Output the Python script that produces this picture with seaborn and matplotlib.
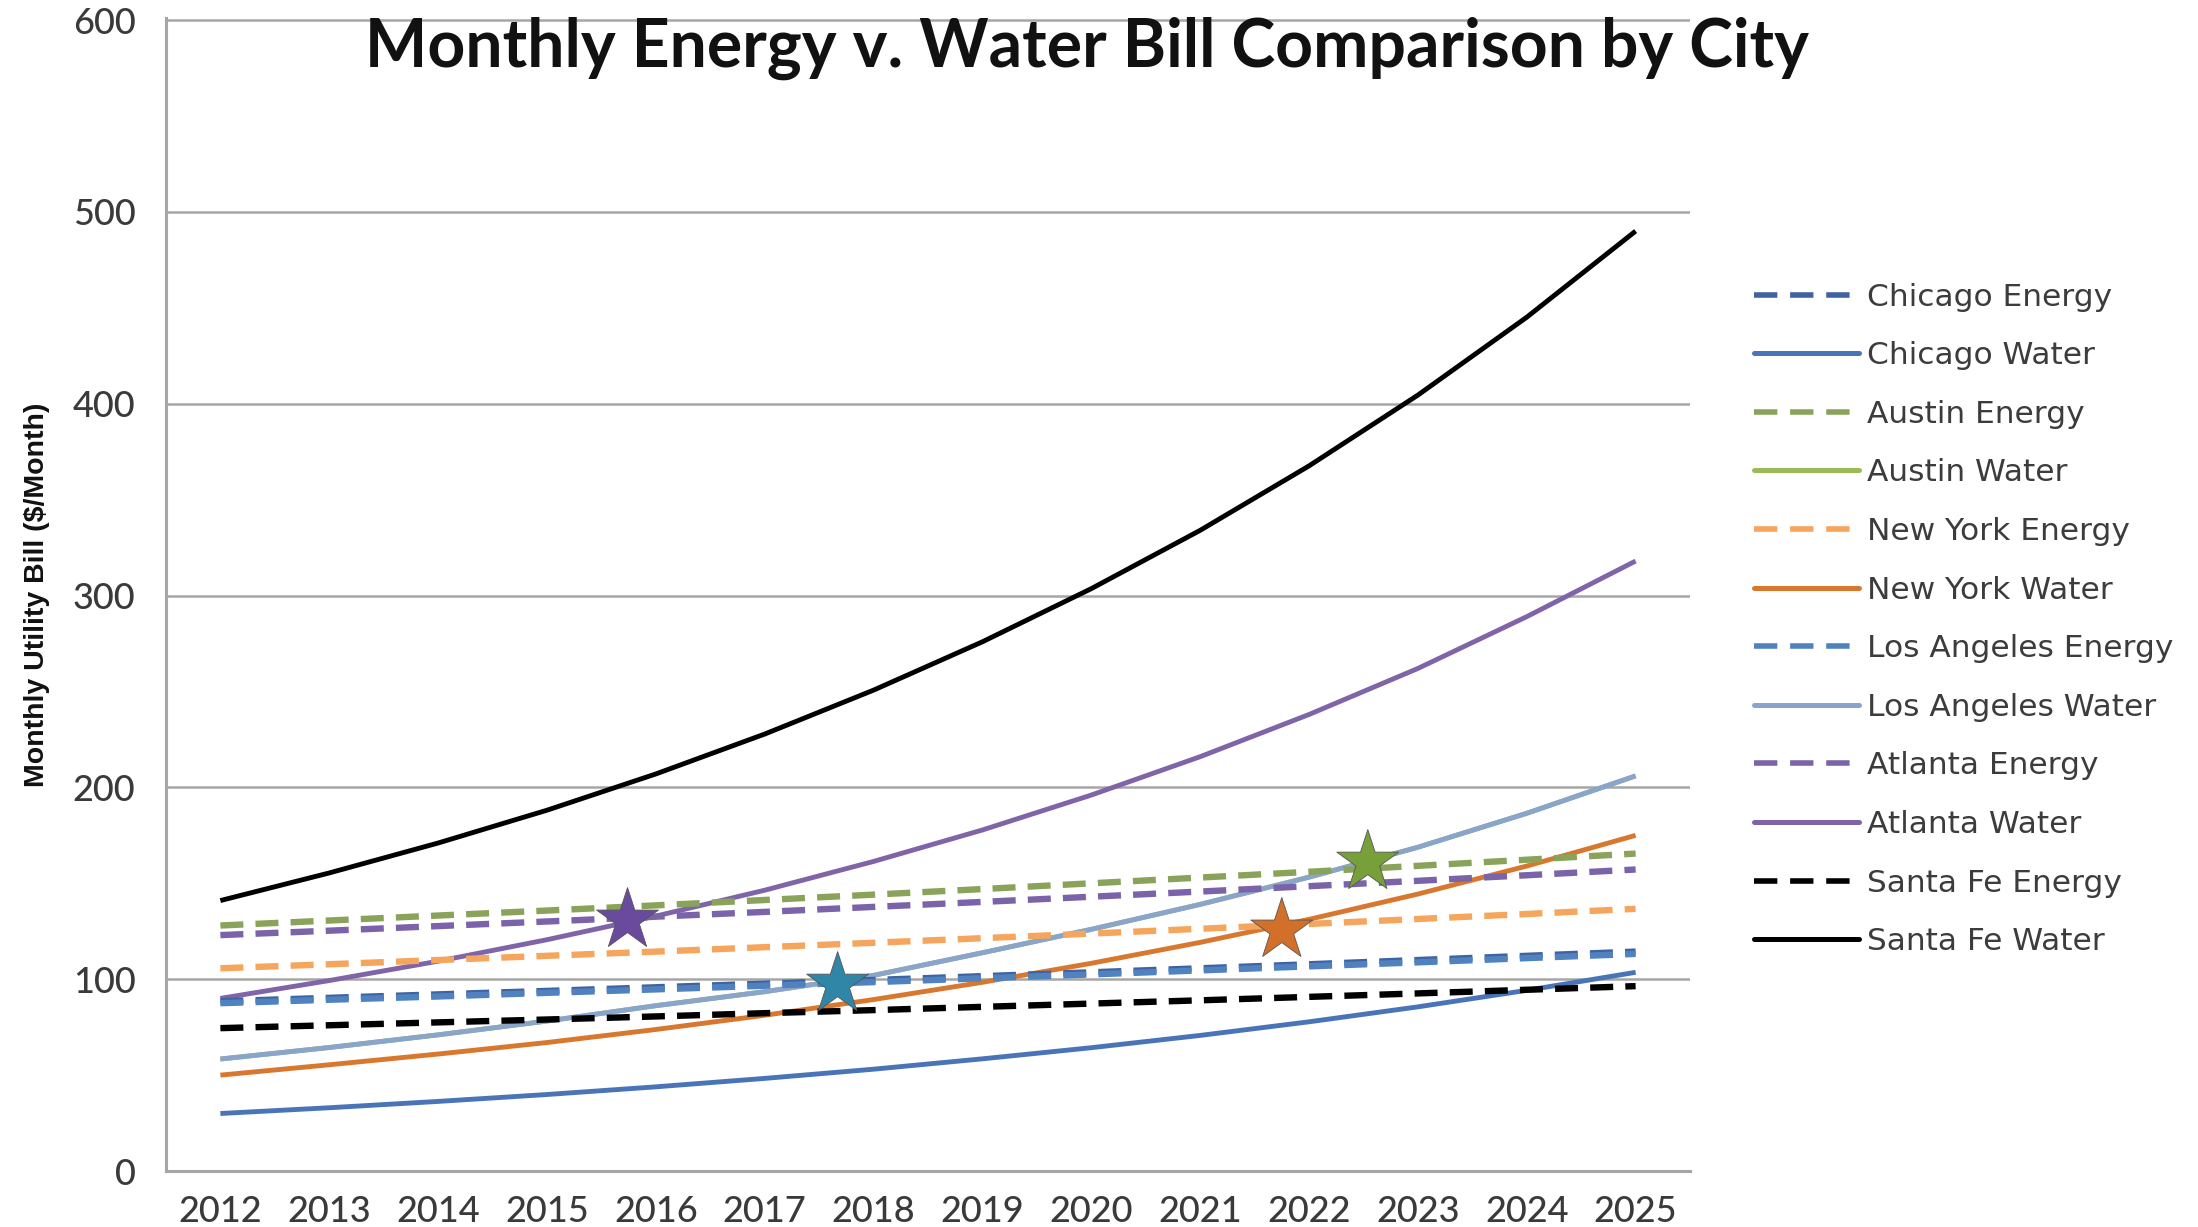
import matplotlib
matplotlib.use("Agg")
import matplotlib.pyplot as plt
import matplotlib.lines as mlines
import seaborn as sns
import pandas as pd

# ---- data: monthly bills in $/month ----
years = [2012, 2013, 2014, 2015, 2016, 2017, 2018, 2019, 2020, 2021, 2022, 2023, 2024, 2025]

chicago_energy = [88.5, 90.3, 92.1, 93.9, 95.8, 97.7, 99.6, 101.6, 103.6, 105.7, 107.8, 110.0, 112.2, 114.4]
chicago_water = [30.0, 33.0, 36.3, 39.9, 43.9, 48.3, 53.1, 58.5, 64.3, 70.7, 77.8, 85.6, 94.2, 103.6]
austin_energy = [128.0, 130.6, 133.2, 135.8, 138.5, 141.3, 144.1, 147.0, 150.0, 153.0, 156.0, 159.1, 162.3, 165.5]
austin_water = [58.4, 64.4, 71.0, 78.2, 86.2, 93.5, 102.0, 113.8, 126.0, 139.0, 153.2, 168.8, 186.5, 206.0]
newyork_energy = [105.7, 107.8, 110.0, 112.2, 114.4, 116.7, 119.0, 121.4, 123.8, 126.3, 128.8, 131.4, 134.0, 136.7]
newyork_water = [50.0, 55.4, 61.0, 67.0, 73.8, 81.2, 89.4, 98.4, 108.3, 119.2, 131.2, 144.4, 159.0, 175.0]
la_energy = [87.5, 89.3, 91.0, 92.9, 94.7, 96.6, 98.5, 100.5, 102.5, 104.6, 106.7, 108.8, 111.0, 113.2]
la_water = [58.4, 64.4, 71.0, 78.2, 86.2, 93.5, 102.0, 113.8, 126.0, 139.0, 153.2, 168.8, 186.5, 206.0]
atlanta_energy = [123.0, 125.3, 127.7, 130.1, 132.6, 135.1, 137.7, 140.3, 143.0, 145.7, 148.5, 151.3, 154.2, 157.2]
atlanta_water = [90.0, 99.3, 109.4, 120.6, 132.9, 146.4, 161.4, 177.8, 196.0, 216.0, 238.0, 262.0, 289.0, 318.0]
santafe_energy = [74.5, 76.0, 77.5, 79.0, 80.6, 82.3, 83.9, 85.6, 87.3, 89.0, 90.8, 92.6, 94.5, 96.4]
santafe_water = [141.0, 155.4, 171.0, 188.1, 207.0, 227.8, 250.7, 275.9, 303.6, 334.0, 367.6, 404.5, 445.1, 490.0]

# year at which each city's water bill overtakes its energy bill
crossover_years = [2015.74, 2017.67, 2021.75, 2022.54]
crossover_values = [130.8, 97.4, 125.6, 161.0]
crossover_colors = ["#6a4a9c", "#2f86a6", "#d2702a", "#77a03a"]

y_ticks = [0, 100, 200, 300, 400, 500, 600]

series = [
    # label, values, colour, dashed
    ("Chicago Energy", chicago_energy, "#3f62a0", True),
    ("Chicago Water", chicago_water, "#4a74b8", False),
    ("Austin Energy", austin_energy, "#8aa35a", True),
    ("Austin Water", austin_water, "#9bbb59", False),
    ("New York Energy", newyork_energy, "#f5a55c", True),
    ("New York Water", newyork_water, "#d8782f", False),
    ("Los Angeles Energy", la_energy, "#4f82be", True),
    ("Los Angeles Water", la_water, "#8aa5cc", False),
    ("Atlanta Energy", atlanta_energy, "#7a63a8", True),
    ("Atlanta Water", atlanta_water, "#8064a8", False),
    ("Santa Fe Energy", santafe_energy, "#000000", True),
    ("Santa Fe Water", santafe_water, "#000000", False),
]

sns.set_theme(style="white")
plt.rcParams["font.family"] = ["Lato", "DejaVu Sans"]

fig = plt.figure(figsize=(21.98, 12.27), dpi=100)
ax = fig.add_axes([0.0755, 0.0456, 0.6934, 0.9396])

DASH = (0, (3.6, 1.9))
# solid lines first so the dashed energy lines sit on top where they meet
order = [1, 3, 5, 7, 9, 11, 0, 2, 4, 6, 8, 10]
drawn = {}
for i in order:
    label, vals, color, dashed = series[i]
    df = pd.DataFrame({"year": years, "bill": vals})
    lw = 4.6 if dashed else 3.5
    sns.lineplot(data=df, x="year", y="bill", ax=ax, color=color,
                 linewidth=lw, linestyle=DASH if dashed else "-",
                 solid_capstyle="butt", dash_capstyle="butt", zorder=3 + (1 if dashed else 0))
    drawn[i] = mlines.Line2D([], [], color=color, linewidth=4.0 if dashed else 3.6,
                             linestyle=(0, (4.2, 2.3)) if dashed else "-",
                             dash_capstyle="butt")

sns.scatterplot(x=crossover_years, y=crossover_values, ax=ax, marker="*", s=2200,
                hue=list(range(len(crossover_years))), palette=crossover_colors,
                edgecolor="#555555", linewidth=0.6, legend=False, zorder=6)

ax.set_xlim(2011.5, 2025.5)
ax.set_ylim(0, 601)
ax.set_yticks(y_ticks)
ax.set_xticks(years)
ax.set_xticks([y - 0.5 for y in years] + [2025.5], minor=True)
ax.tick_params(axis="x", which="major", length=0, pad=17, labelsize=26, labelcolor="#3a3a3a")
ax.tick_params(axis="x", which="minor", length=9, width=1.8, color="#a6a6a6", direction="out")
ax.tick_params(axis="y", which="major", length=8, width=1.8, color="#a6a6a6", pad=14,
               labelsize=26, labelcolor="#3a3a3a")
for t in ax.get_xticklabels() + ax.get_yticklabels():
    t.set_fontweight("medium")

ax.yaxis.grid(True, color="#a6a6a6", linewidth=1.8)
ax.xaxis.grid(False)
ax.set_axisbelow(True)
for side in ("top", "right"):
    ax.spines[side].set_visible(False)
for side in ("left", "bottom"):
    ax.spines[side].set_color("#a6a6a6")
    ax.spines[side].set_linewidth(2.2)

ax.set_xlabel("")
ax.set_ylabel("Monthly Utility Bill ($/Month)", fontsize=20.5, fontweight="bold",
              family=["Liberation Sans Narrow", "Liberation Sans", "DejaVu Sans"],
              color="#111111", labelpad=16)

fig.text(0.4945, 0.9605, "Monthly Energy v. Water Bill Comparison by City", ha="center",
         va="center", fontsize=47.5, fontweight="bold", color="#111111")

leg = fig.legend(handles=[drawn[i] for i in range(len(series))],
                 labels=[s[0] for s in series], loc="upper left",
                 bbox_to_anchor=(0.785, 0.7926), frameon=False, handlelength=3.36,
                 handletextpad=0.27, labelspacing=0.947,
                 prop={"family": ["DejaVu Sans"], "size": 22.5})
for t in leg.get_texts():
    t.set_color("#3c3c3c")

fig.savefig("out.png", dpi=100, facecolor="white")
